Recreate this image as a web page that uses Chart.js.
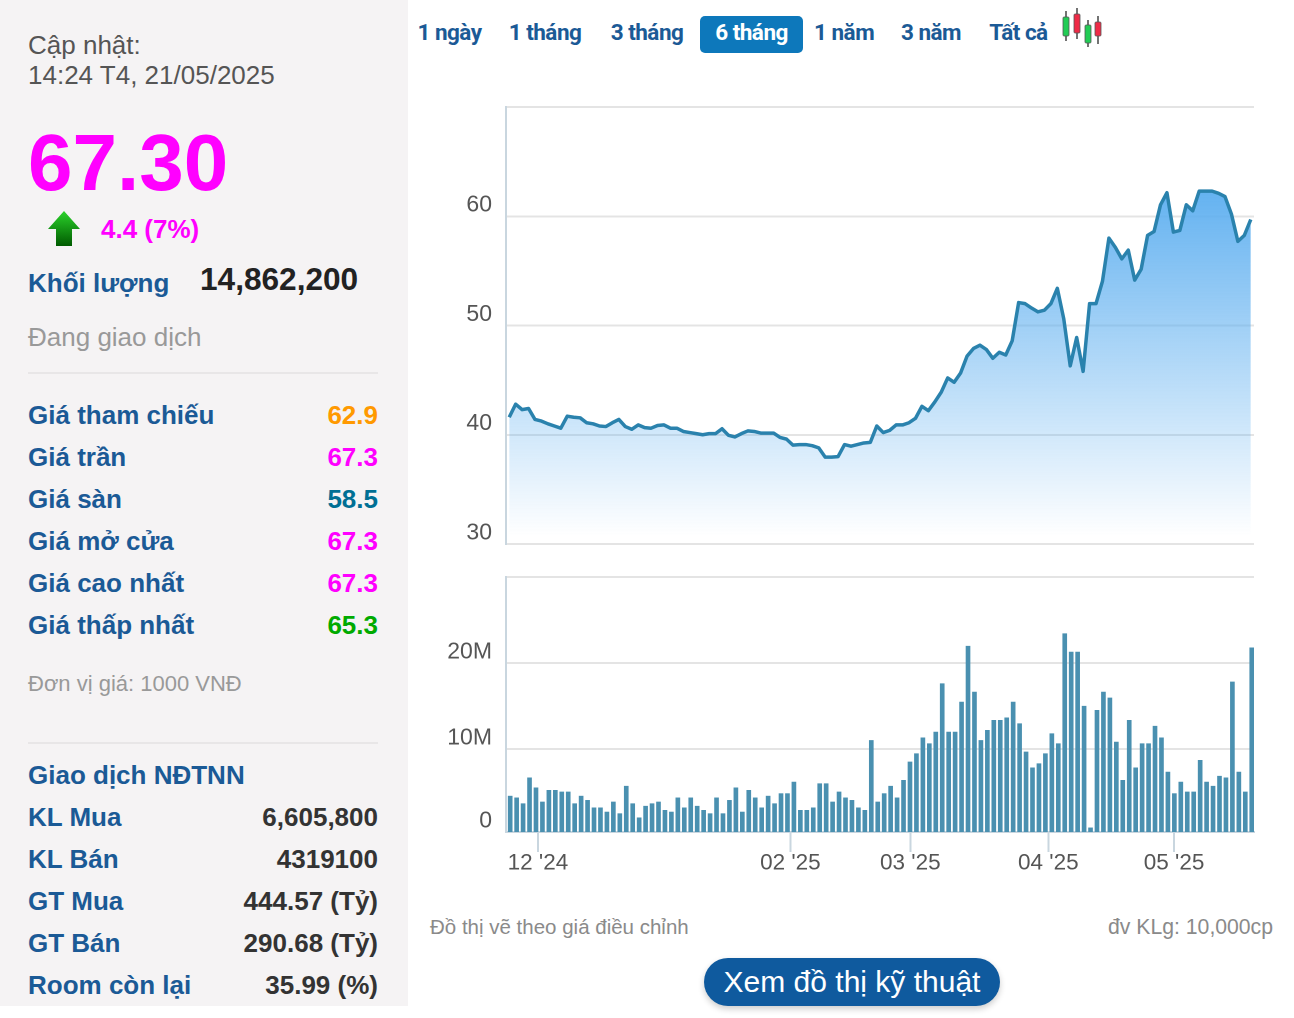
<!DOCTYPE html>
<html lang="vi">
<head>
<meta charset="utf-8">
<title>Giá cổ phiếu</title>
<script src="https://cdn.jsdelivr.net/npm/chart.js@4/dist/chart.umd.min.js"></script>
<style>
  html, body { margin: 0; padding: 0; background: #fff; overflow: hidden; }
  body { width: 1294px; height: 1018px; position: relative; font-family: "Liberation Sans", Arial, sans-serif; }
  #side { position: absolute; left: 0; top: 0; width: 408px; height: 1006px; background: #f5f3f4; }
  .t { position: absolute; white-space: nowrap; line-height: 30px; height: 30px; }
  .lbl { left: 28px; font-weight: bold; font-size: 26px; color: #1b5a96; }
  .val { right: 916px; font-weight: bold; font-size: 26px; color: #333; }
  .sep { position: absolute; left: 28px; width: 350px; height: 2px; background: #e8e6e7; }
  .tab { position: absolute; top: 16px; height: 37px; line-height: 33px; text-align: center; font-family: Roboto, sans-serif; font-weight: 700; font-size: 22.5px; letter-spacing: -0.5px; color: #1b5a96; white-space: nowrap; }
  .tab.on { background: #0d78bb; color: #fff; border-radius: 5px; }
  canvas { position: absolute; }
  #btn { position: absolute; left: 704px; top: 958px; width: 296px; height: 48px; line-height: 48px; border-radius: 24px; background: #0f5a9e; color: #fff; text-align: center; font-size: 30px; box-shadow: 0 3px 6px rgba(0,0,0,0.2); }
</style>
</head>
<body>
<div id="side"></div>
<svg style="position:absolute;left:46px;top:210px" width="36" height="38" viewBox="0 0 36 38">
  <defs><linearGradient id="ag" x1="0" y1="0" x2="0" y2="1"><stop offset="0" stop-color="#2bd32b"/><stop offset="1" stop-color="#005a00"/></linearGradient></defs>
  <path d="M18 1 L34 19 L26 19 L26 36 L10 36 L10 19 L2 19 Z" fill="url(#ag)"/>
</svg>
<svg style="position:absolute;left:1060px;top:8px" width="44" height="42" viewBox="0 0 44 42">
  <g stroke="#444" stroke-width="1.5">
    <line x1="6" y1="3" x2="6" y2="33"/><line x1="17" y1="0" x2="17" y2="31"/><line x1="28" y1="12" x2="28" y2="39"/><line x1="38" y1="8" x2="38" y2="36"/>
  </g>
  <g stroke="#555" stroke-width="0.8">
    <rect x="3" y="9" width="6" height="19" rx="1" fill="#22cc55"/>
    <rect x="14" y="6" width="6" height="19" rx="1" fill="#ee2b47"/>
    <rect x="25" y="17" width="6" height="18" rx="1" fill="#22cc55"/>
    <rect x="35" y="14" width="6" height="14" rx="1" fill="#ee2b47"/>
  </g>
</svg>
<canvas id="priceChart" style="left:410px;top:97px;width:848px;height:456px"></canvas>
<canvas id="volumeChart" style="left:410px;top:567px;width:848px;height:320px"></canvas>
<div id="btn">Xem đồ thị kỹ thuật</div>

<script>
// Gia dong cua (nghin dong), moi phien mot gia tri
const closePrices = [
  41.6, 42.8, 42.3, 42.4, 41.4, 41.25, 41.0, 40.8, 40.6, 41.7,
  41.6, 41.55, 41.1, 41.0, 40.8, 40.75, 41.1, 41.4, 40.75, 40.5,
  40.9, 40.65, 40.6, 40.85, 40.9, 40.6, 40.6, 40.3, 40.2, 40.1,
  40.0, 40.1, 40.1, 40.55, 39.95, 39.8, 40.1, 40.35, 40.3, 40.15,
  40.15, 40.15, 39.75, 39.6, 39.05, 39.1, 39.1, 39.0, 38.8, 37.95,
  37.95, 38.0, 39.1, 38.95, 39.1, 39.25, 39.3, 40.8, 40.2, 40.4,
  40.9, 40.9, 41.1, 41.5, 42.6, 42.2, 43.0, 43.9, 45.2, 44.8,
  45.65, 47.2, 47.9, 48.2, 47.8, 47.0, 47.55, 47.3, 48.6, 52.1,
  52.0, 51.6, 51.25, 51.4, 52.0, 53.4, 50.6, 46.3, 48.9, 45.8,
  52.0, 52.0, 54.05, 58.0, 57.15, 56.1, 56.9, 54.15, 55.15, 58.25,
  58.6, 61.05, 62.15, 58.55, 58.7, 61.05, 60.5, 62.3, 62.3, 62.3,
  62.1, 61.8, 60.2, 57.7, 58.25, 59.7
];

// Khoi luong (trieu cp)
const volumes = [
  4.52, 4.32, 3.64, 6.65, 5.48, 3.84, 5.19, 5.19, 5.0, 5.0,
  3.64, 4.52, 4.03, 3.16, 3.16, 2.67, 3.84, 2.48, 5.68, 3.64,
  2.0, 3.35, 3.64, 3.84, 2.87, 2.67, 4.32, 3.16, 4.32, 3.35,
  2.87, 2.48, 4.32, 2.48, 4.03, 5.48, 2.67, 5.19, 4.32, 3.16,
  4.52, 3.64, 4.81, 4.81, 6.16, 2.87, 2.87, 3.16, 5.97, 5.97,
  3.84, 5.0, 4.32, 4.03, 3.16, 2.87, 11.0, 3.84, 4.81, 5.68,
  4.32, 6.36, 8.49, 9.45, 11.3, 10.62, 11.97, 17.59, 11.97, 11.97,
  15.46, 21.95, 16.62, 11.0, 12.17, 13.33, 13.33, 13.62, 15.46, 12.94,
  9.65, 7.81, 8.29, 9.45, 11.78, 10.62, 23.4, 21.27, 21.27, 14.98,
  0.83, 14.49, 16.62, 15.94, 10.81, 6.36, 13.33, 7.81, 10.62, 10.62,
  12.65, 11.3, 7.32, 4.81, 6.16, 5.0, 5.0, 8.68, 6.16, 5.68,
  6.84, 6.65, 17.79, 7.32, 5.0, 21.76
];

const monthTickSessions = [4.45, 43.6, 62.2, 83.6, 103.1];
const monthTickLabels = ["12 '24", "02 '25", "03 '25", "04 '25", "05 '25"];
const priceTicks = [30, 40, 50, 60, 70];
const priceTickLabels = ['30', '40', '50', '60', ''];
// truc khoi luong bi cat o day: moc duoi cung van ghi la 0
const volumeTicks = [0.35, 10, 20, 30];
const volumeTickLabels = ['0', '10M', '20M', ''];

const tabNames = ['1 ngày', '1 tháng', '3 tháng', '6 tháng', '1 năm', '3 năm', 'Tất cả'];
const priceRows = [
  ['Giá tham chiếu', '62.9', '#ff9900'],
  ['Giá trần', '67.3', '#ff00ff'],
  ['Giá sàn', '58.5', '#006f94'],
  ['Giá mở cửa', '67.3', '#ff00ff'],
  ['Giá cao nhất', '67.3', '#ff00ff'],
  ['Giá thấp nhất', '65.3', '#00aa00']
];
const foreignRows = [
  ['KL Mua', '6,605,800'],
  ['KL Bán', '4319100'],
  ['GT Mua', '444.57 (Tỷ)'],
  ['GT Bán', '290.68 (Tỷ)'],
  ['Room còn lại', '35.99 (%)']
];

// ---- phan chu ben ngoai bieu do ----
function addText(cssClass, text, css) {
  const el = document.createElement('div');
  el.className = cssClass;
  el.textContent = text;
  Object.assign(el.style, css);
  document.body.appendChild(el);
  return el;
}

const tabBoxes = [[417, 65], [508, 74], [609, 76], [700, 103], [814, 60], [900, 62], [988, 61]];
tabNames.forEach((name, i) => {
  addText(i === 3 ? 'tab on' : 'tab', name, { left: tabBoxes[i][0] + 'px', width: tabBoxes[i][1] + 'px' });
});

addText('t', 'Cập nhật:', { left: '28px', top: '30px', fontSize: '26px', color: '#555' });
addText('t', '14:24 T4, 21/05/2025', { left: '28px', top: '60px', fontSize: '26px', color: '#555' });
addText('t', '67.30', { left: '28px', top: '125px', height: '76px', lineHeight: '76px', fontSize: '80px', fontWeight: 'bold', color: '#ff00ff' });
addText('t', '4.4 (7%)', { left: '101px', top: '214px', fontSize: '26px', fontWeight: 'bold', color: '#ff00ff' });
addText('t lbl', 'Khối lượng', { top: '268px' });
addText('t', '14,862,200', { left: '200px', top: '264px', fontSize: '31.6px', fontWeight: 'bold', color: '#222' });
addText('t', 'Đang giao dịch', { left: '28px', top: '322px', fontSize: '26px', color: '#999' });
addText('sep', '', { top: '372px' });

priceRows.forEach((r, i) => {
  const top = 400 + i * 42;
  addText('t lbl', r[0], { top: top + 'px' });
  addText('t val', r[1], { top: top + 'px', color: r[2] });
});

addText('t', 'Đơn vị giá: 1000 VNĐ', { left: '28px', top: '669px', fontSize: '22px', color: '#999' });
addText('sep', '', { top: '742px' });
addText('t lbl', 'Giao dịch NĐTNN', { top: '760px' });
foreignRows.forEach((r, i) => {
  const top = 802 + i * 42;
  addText('t lbl', r[0], { top: top + 'px' });
  addText('t val', r[1], { top: top + 'px' });
});

addText('t', 'Đồ thị vẽ theo giá điều chỉnh', { left: '430px', top: '912px', fontSize: '20.5px', color: '#8a8a8a' });
addText('t', 'đv KLg: 10,000cp', { right: '21px', top: '912px', fontSize: '21.2px', color: '#8a8a8a' });

// ---- bieu do ----
const axisLineColor = '#c9d6df';
const gridColor = '#e4e4e4';
const tickColor = '#555555';
const tickFont = { family: '"Liberation Sans", Arial, sans-serif', size: 23 };

// bo phan dem ma Chart.js them cho nhan dau/cuoi truc
function noScalePadding(s) {
  s.paddingTop = 0;
  s.paddingBottom = 0;
  s.paddingLeft = 0;
  s.paddingRight = 0;
}

function valueAxis(ticks, labels, min, max) {
  return {
    position: 'left',
    min: min,
    max: max,
    afterFit: s => { s.width = 96; noScalePadding(s); },
    afterBuildTicks: s => { s.ticks = ticks.map(v => ({ value: v })); },
    border: { color: axisLineColor, width: 2 },
    grid: { color: gridColor, lineWidth: 2, drawTicks: false },
    ticks: {
      color: tickColor,
      font: tickFont,
      padding: 14,
      labelOffset: -11,
      autoSkip: false,
      maxRotation: 0,
      callback: v => labels[ticks.indexOf(v)]
    }
  };
}

const sessions = closePrices.map((_, i) => i);
const commonOptions = {
  responsive: false,
  maintainAspectRatio: false,
  animation: false,
  events: [],
  devicePixelRatio: 2,
  plugins: { legend: { display: false }, tooltip: { enabled: false } }
};

new Chart(document.getElementById('priceChart'), {
  type: 'line',
  data: {
    datasets: [{
      data: sessions.map(i => ({ x: i, y: closePrices[i] })),
      borderColor: '#2a82ad',
      borderWidth: 3.5,
      borderJoinStyle: 'round',
      pointRadius: 0,
      tension: 0,
      fill: 'start',
      backgroundColor: c => {
        const area = c.chart.chartArea;
        if (!area) return 'transparent';
        const g = c.chart.ctx.createLinearGradient(0, 85, 0, area.bottom - 8);
        g.addColorStop(0, 'rgba(96,176,240,1)');
        g.addColorStop(1, 'rgba(96,176,240,0)');
        return g;
      }
    }]
  },
  options: {
    ...commonOptions,
    layout: { padding: { top: 10, bottom: 9, right: 4, left: 0 } },
    scales: {
      x: { type: 'linear', display: false, offset: false, min: -0.5, max: 115.5 },
      y: valueAxis(priceTicks, priceTickLabels, 30, 70)
    }
  }
});

new Chart(document.getElementById('volumeChart'), {
  type: 'bar',
  data: {
    datasets: [{
      data: sessions.map(i => ({ x: i + 0.15, y: volumes[i] })),
      backgroundColor: '#4a90b0',
      barThickness: 4
    }]
  },
  options: {
    ...commonOptions,
    layout: { padding: { top: 10, bottom: 0, right: 4, left: 0 } },
    scales: {
      x: {
        type: 'linear',
        offset: false,
        min: -0.5,
        max: 115.5,
        afterBuildTicks: s => { s.ticks = monthTickSessions.map(v => ({ value: v })); },
        afterFit: s => { s.height = 55; noScalePadding(s); },
        border: { color: axisLineColor, width: 2 },
        grid: { offset: false, drawOnChartArea: false, color: axisLineColor, lineWidth: 2, tickLength: 20 },
        ticks: {
          color: tickColor,
          font: { family: tickFont.family, size: 22.5 },
          padding: -2,
          autoSkip: false,
          maxRotation: 0,
          callback: v => monthTickLabels[monthTickSessions.indexOf(v)]
        }
      },
      y: valueAxis(volumeTicks, volumeTickLabels, 0.35, 30)
    }
  }
});
</script>
</body>
</html>
